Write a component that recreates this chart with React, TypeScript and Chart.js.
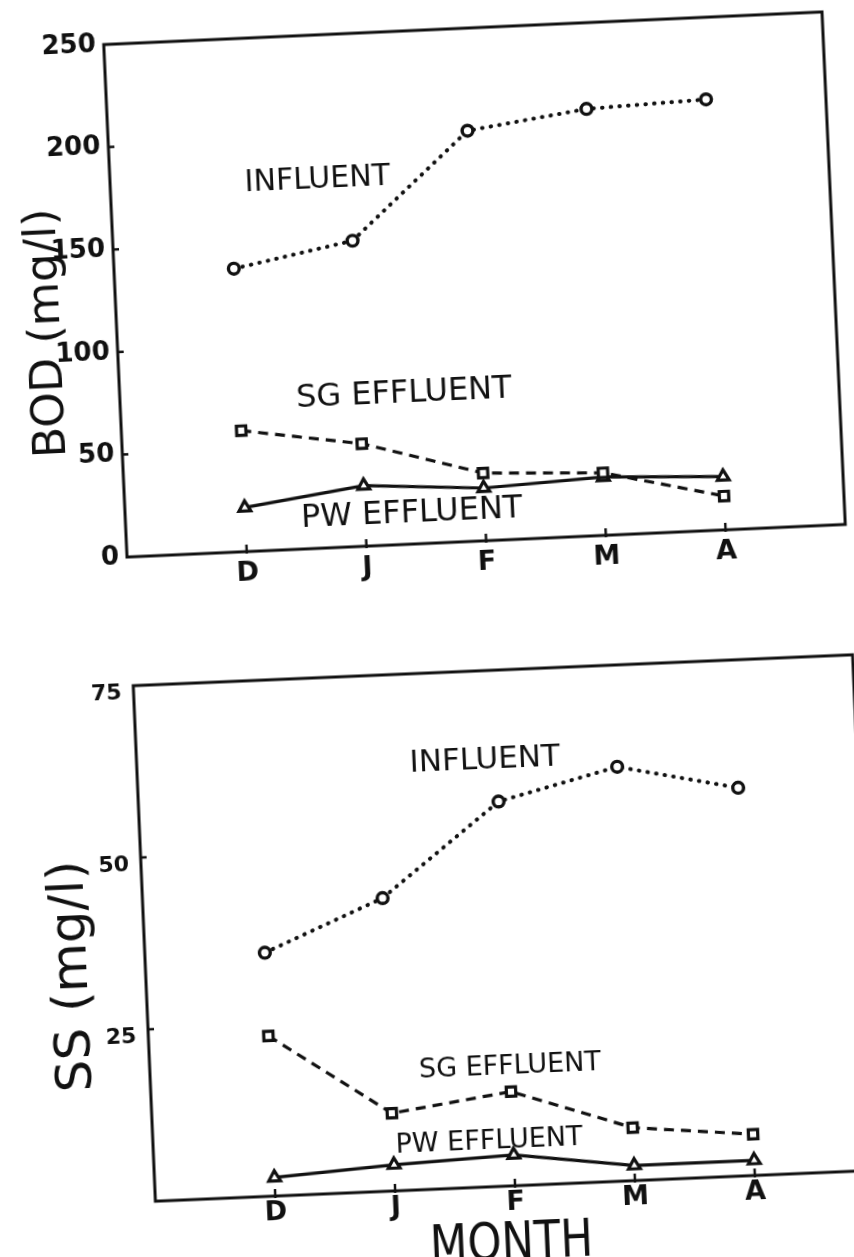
import React, { useEffect, useRef } from 'react';
import { Chart, registerables } from 'chart.js';

Chart.register(...registerables);

// ---------- data ----------
const months = ['D', 'J', 'F', 'M', 'A'];

const bodTicks = [0, 50, 100, 150, 200, 250];
const bodInfluent = [138, 149, 200, 208, 210];
const bodSG = [59, 50, 33, 30.5, 16.5];
const bodPW = [21.5, 29.5, 25.7, 28.4, 26];

const ssTicks = [0, 25, 50, 75];
const ssInfluent = [35.4, 42.6, 55.9, 60.2, 56.4];
const ssSG = [23.3, 11.3, 13.7, 7.7, 6.0];
const ssPW = [2.7, 3.8, 4.5, 2.2, 2.2];

// ---------- text notes (data coordinates) ----------
type Note = { text: string; x: number; y: number; size: number; rotate?: number; sx?: number };

const bodNotes: Note[] = [
  { text: 'INFLUENT', x: 0.73, y: 179.4, size: 30 },
  { text: 'SG EFFLUENT', x: 1.37, y: 73.2, size: 32 },
  { text: 'PW EFFLUENT', x: 1.39, y: 14.6, size: 32 },
  { text: 'BOD (mg/l)', x: -1.57, y: 110.8, size: 45, rotate: -90 },
];

const ssNotes: Note[] = [
  { text: 'INFLUENT', x: 1.9, y: 61.9, size: 31 },
  { text: 'SG EFFLUENT', x: 2.0, y: 17.35, size: 27 },
  { text: 'PW EFFLUENT', x: 1.8, y: 6.6, size: 27 },
  { text: 'SS (mg/l)', x: -1.6, y: 33.2, size: 49, rotate: -90, sx: 1.03 },
  { text: 'MONTH', x: 1.95, y: -8.7, size: 51, sx: 0.85 },
];

const INK = '#111111';
const FONT = "'DejaVu Sans', 'Liberation Sans', sans-serif";

function notesPlugin(items: Note[]) {
  return {
    id: 'notes',
    afterDatasetsDraw(chart: any) {
      const { ctx } = chart;
      const xs = chart.scales.x;
      const ys = chart.scales.y;
      for (const n of items) {
        ctx.save();
        ctx.translate(xs.getPixelForValue(n.x), ys.getPixelForValue(n.y));
        if (n.rotate) ctx.rotate((n.rotate * Math.PI) / 180);
        ctx.scale(n.sx ?? 1, 1);
        ctx.font = `${n.size}px ${FONT}`;
        ctx.fillStyle = INK;
        ctx.textAlign = 'center';
        ctx.textBaseline = 'middle';
        ctx.fillText(n.text, 0, 0);
        ctx.restore();
      }
    },
  };
}

const framePlugin = {
  id: 'frame',
  beforeDatasetsDraw(chart: any) {
    const { ctx, chartArea: a } = chart;
    const xs = chart.scales.x;
    const ys = chart.scales.y;
    ctx.save();
    ctx.strokeStyle = INK;
    ctx.lineWidth = 3;
    ctx.strokeRect(a.left, a.top, a.right - a.left, a.bottom - a.top);
    ctx.lineWidth = 2.5;
    for (const t of ys.ticks) {
      if (t.value <= ys.min || t.value >= ys.max) continue;
      const p = ys.getPixelForValue(t.value);
      ctx.beginPath();
      ctx.moveTo(a.left, p);
      ctx.lineTo(a.left + 6, p);
      ctx.stroke();
    }
    for (const t of xs.ticks) {
      const p = xs.getPixelForValue(t.value);
      ctx.beginPath();
      ctx.moveTo(p, a.bottom + 2);
      ctx.lineTo(p, a.bottom - 7);
      ctx.stroke();
    }
    ctx.restore();
  },
};

function series(values: number[]) {
  return values.map((v, i) => ({ x: i, y: v }));
}

function makeConfig(opts: {
  influent: number[];
  sg: number[];
  pw: number[];
  ticks: number[];
  max: number;
  notes: Note[];
  yFont: number;
  yPad: number;
  yOffset: number;
  showZero: boolean;
  xPad: number;
  xHeight: number;
  right: number;
}): any {
  const marker = { pointBackgroundColor: '#ffffff', pointBorderColor: INK };
  return {
    type: 'line',
    data: {
      datasets: [
        {
          data: series(opts.influent),
          borderColor: INK,
          borderWidth: 4,
          borderDash: [0.5, 8.2],
          borderCapStyle: 'round',
          pointStyle: 'circle',
          ...marker,
          pointRadius: 5.4,
          pointBorderWidth: 3.4,
        },
        {
          data: series(opts.sg),
          borderColor: INK,
          borderWidth: 3.2,
          borderDash: [10, 7],
          pointStyle: 'rect',
          ...marker,
          pointRadius: 6.6,
          pointBorderWidth: 3.2,
        },
        {
          data: series(opts.pw),
          borderColor: INK,
          borderWidth: 3.2,
          pointStyle: 'triangle',
          ...marker,
          pointRadius: 6.8,
          pointBorderWidth: 3.2,
        },
      ],
    },
    options: {
      animation: false,
      responsive: false,
      events: [],
      layout: { padding: { left: 0, top: 28, right: opts.right, bottom: 0 } },
      plugins: { legend: { display: false }, tooltip: { enabled: false } },
      scales: {
        x: {
          type: 'linear',
          min: -1,
          max: 5,
          afterBuildTicks: (s: any) => {
            s.ticks = months.map((_, i) => ({ value: i }));
          },
          afterFit: (s: any) => {
            s.height = opts.xHeight;
          },
          ticks: {
            callback: (v: any) => months[v] ?? '',
            autoSkip: false,
            maxRotation: 0,
            padding: opts.xPad,
            color: INK,
            font: { family: FONT, size: 27, weight: 'bold' },
          },
          grid: { display: false, drawTicks: false },
          border: { display: false },
        },
        y: {
          min: 0,
          max: opts.max,
          afterBuildTicks: (s: any) => {
            s.ticks = opts.ticks.map((v) => ({ value: v }));
          },
          afterFit: (s: any) => {
            s.width = 100;
          },
          ticks: {
            callback: (v: any) => (v === 0 && !opts.showZero ? '' : String(v)),
            padding: opts.yPad,
            labelOffset: opts.yOffset,
            color: INK,
            font: { family: FONT, size: opts.yFont, weight: 'bold' },
          },
          grid: { display: false, drawTicks: false },
          border: { display: false },
        },
      },
    },
    plugins: [framePlugin, notesPlugin(opts.notes)],
  };
}

export default function App() {
  const topRef = useRef<HTMLCanvasElement | null>(null);
  const botRef = useRef<HTMLCanvasElement | null>(null);

  useEffect(() => {
    const top = new Chart(
      topRef.current as HTMLCanvasElement,
      makeConfig({
        influent: bodInfluent,
        sg: bodSG,
        pw: bodPW,
        ticks: bodTicks,
        max: 250,
        notes: bodNotes,
        yFont: 26,
        yPad: 8,
        yOffset: 0,
        showZero: true,
        xPad: 6,
        xHeight: 60,
        right: 21,
      })
    );
    const bot = new Chart(
      botRef.current as HTMLCanvasElement,
      makeConfig({
        influent: ssInfluent,
        sg: ssSG,
        pw: ssPW,
        ticks: ssTicks,
        max: 75,
        notes: ssNotes,
        yFont: 22,
        yPad: 12,
        yOffset: 7,
        showZero: false,
        xPad: 1,
        xHeight: 75,
        right: 20,
      })
    );
    return () => {
      top.destroy();
      bot.destroy();
    };
  }, []);

  return (
    <div
      style={{
        position: 'absolute',
        left: 0,
        top: 0,
        width: 854,
        height: 1257,
        overflow: 'hidden',
        background: '#ffffff',
      }}
    >
      <canvas
        ref={topRef}
        width={840}
        height={601}
        style={{
          position: 'absolute',
          left: 14.75,
          top: 0,
          width: 840,
          height: 601,
          transform: 'rotate(-2.6deg)',
          transformOrigin: '459.5px 284.5px',
        }}
      />
      <canvas
        ref={botRef}
        width={840}
        height={619}
        style={{
          position: 'absolute',
          left: 43.5,
          top: 641.5,
          width: 840,
          height: 619,
          transform: 'rotate(-2.46deg)',
          transformOrigin: '460px 286px',
        }}
      />
    </div>
  );
}
